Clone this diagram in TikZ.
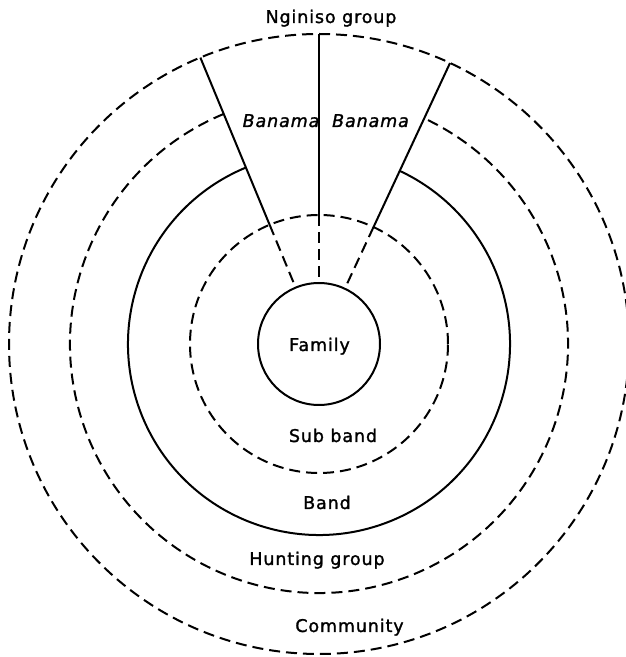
\documentclass[tikz,border=0pt]{standalone}
\usepackage{fontspec}
\usetikzlibrary{calc}
\setmainfont{DejaVu Sans}[LetterSpace=5,FakeBold=1.5]
\begin{document}
\begin{tikzpicture}[x=1pt,y=1pt,
  ring/.style={line width=2pt},
  dashring/.style={line width=2pt,dash pattern=on 11pt off 6pt},
  lbl/.style={anchor=base,inner sep=0pt,font=\fontsize{17.5}{19}\selectfont},
  ilbl/.style={lbl,font=\fontsize{17.5}{19}\selectfont\itshape}]
\useasboundingbox (0,0) rectangle (625,657);
\coordinate (c) at (319,313);

% outer rings
\draw[dashring] (c) circle[radius=310];
\draw[dashring] ($(c)+(112.5:249)$) arc[start angle=112.5,end angle=425,radius=249];
\draw[ring] ($(c)+(112.5:191)$) arc[start angle=112.5,end angle=425,radius=191];
\draw[dashring] (c) circle[radius=129];
\node[ring,draw,circle,minimum size=122pt,inner sep=0pt] (fam) at (c) {};

% sector boundaries of the Banama
\foreach \a/\n in {112.5/l,90/m,65/r}{
  \coordinate (top\n) at ($(c)+(\a:310)$);
  \coordinate (mid\n) at ($(c)+(\a:129)$);
  \coordinate (bot\n) at ($(c)+(\a:61)$);
  \draw[ring] (top\n) -- (mid\n);
  \draw[dashring] (mid\n) -- (bot\n);
}

% labels
\node[lbl] (ng) at (331,634) {Nginiso group};
\node[ilbl] (ba1) at (281,530) {Banama};
\node[ilbl] (ba2) at (370.5,530) {Banama};
\node[lbl] (fm) at (319.5,306) {Family};
\node[lbl] (sb) at (333,215) {Sub band};
\node[lbl] (bd) at (327,148) {Band};
\node[lbl] (hg) at (317,92) {Hunting group};
\node[lbl] (cm) at (349.5,25) {Community};
\end{tikzpicture}
\end{document}
